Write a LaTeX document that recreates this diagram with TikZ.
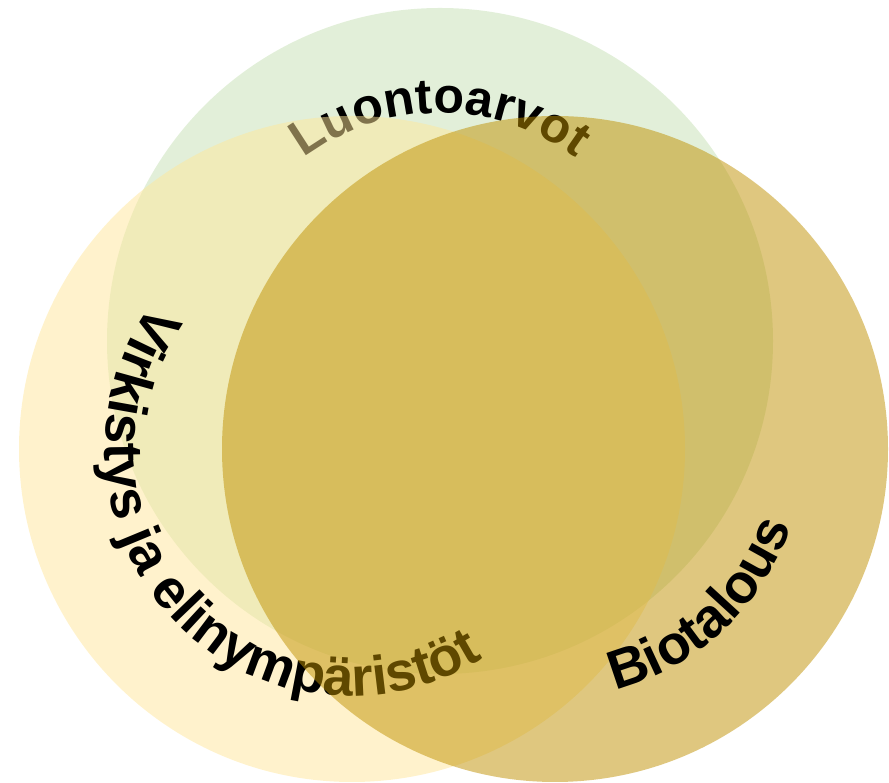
\documentclass[tikz,border=0pt]{standalone}
\usepackage{fontspec}
\setmainfont{Liberation Sans}
\usetikzlibrary{decorations.text}
\definecolor{luontogreen}{HTML}{C5E0B4}
\definecolor{virkyellow}{HTML}{FFE699}
\definecolor{biogold}{HTML}{BF9000}

\begin{document}
\begin{tikzpicture}[x=1pt,y=1pt,
  zone/.style={circle, inner sep=0pt, minimum size=666pt, fill opacity=0.5},
  bendtext/.style 2 args={decorate, decoration={text along path, text align=center,
      text={|\fontsize{#1}{#1}\selectfont\bfseries|#2}}}]
  \useasboundingbox (0,0) rectangle (889,783);
  % Define circles, each with its label on an arc
  \node[zone, fill=luontogreen] (luonto) at (440,442) {};
  \path[bendtext={50}{Luontoarvot}] ([shift={(180:228pt)}]luonto.center)
    arc[start angle=180, end angle=0, radius=228pt];

  \node[zone, fill=virkyellow] (virkistys) at (352,334) {};
  \path[bendtext={55}{Virkistys ja elinympäristöt}] ([shift={(133:247pt)}]virkistys.center)
    arc[start angle=133, end angle=313, radius=247pt];

  \node[zone, fill=biogold] (bio) at (555,334) {};
  \path[bendtext={55}{Biotalous}] ([shift={(-137:248pt)}]bio.center)
    arc[start angle=-137, end angle=43, radius=248pt];
\end{tikzpicture}
\end{document}
